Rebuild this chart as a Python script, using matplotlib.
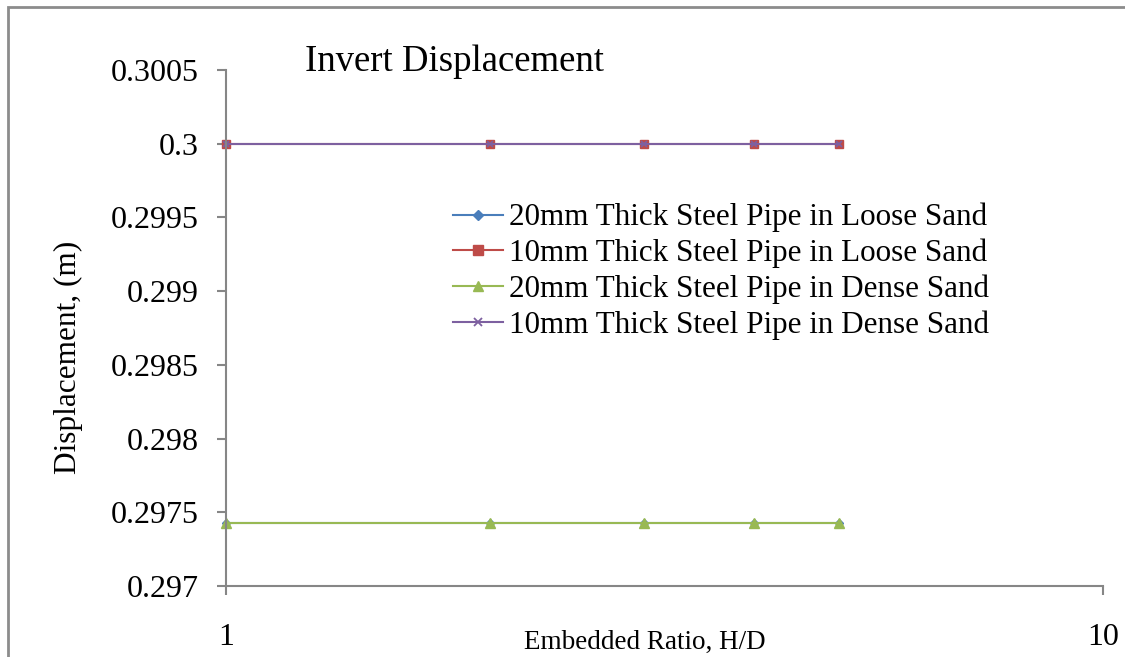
import matplotlib
matplotlib.use("Agg")
import matplotlib.pyplot as plt
from matplotlib.patches import Rectangle

# Embedded ratio H/D and invert displacement (m) for each pipe/sand case
embedded_ratio = [1, 2, 3, 4, 5]
loose_20mm = [0.29743, 0.29743, 0.29743, 0.29743, 0.29743]
loose_10mm = [0.30000, 0.30000, 0.30000, 0.30000, 0.30000]
dense_20mm = [0.29743, 0.29743, 0.29743, 0.29743, 0.29743]
dense_10mm = [0.30000, 0.30000, 0.30000, 0.30000, 0.30000]

series_labels = [
    "20mm Thick Steel Pipe in Loose Sand",
    "10mm Thick Steel Pipe in Loose Sand",
    "20mm Thick Steel Pipe in Dense Sand",
    "10mm Thick Steel Pipe in Dense Sand",
]
y_ticks = [0.297, 0.2975, 0.298, 0.2985, 0.299, 0.2995, 0.3, 0.3005]
y_tick_labels = ["0.297", "0.2975", "0.298", "0.2985", "0.299", "0.2995", "0.3", "0.3005"]

plt.rcParams["font.family"] = ["Liberation Serif", "DejaVu Serif"]

fig = plt.figure(figsize=(11.25, 6.57), dpi=100)
fig.patch.set_facecolor("white")

# Chart-area frame (runs off the right and bottom edges)
fig.patches.append(Rectangle((8 / 1125, -0.1), 1.2, 1.1 - 7 / 657,
                             transform=fig.transFigure, fill=False,
                             edgecolor="#8c8c8c", linewidth=2, zorder=0))

ax = fig.add_axes([226 / 1125, 1 - 586 / 657, (1103 - 226) / 1125, (586 - 70) / 657])

styles = [
    dict(color="#4a7ebb", marker="D", markersize=4.5),
    dict(color="#be4b48", marker="s", markersize=6),
    dict(color="#98b954", marker="^", markersize=6.5),
    dict(color="#7d60a0", marker="x", markersize=5, markeredgewidth=1.3),
]
data = [loose_20mm, loose_10mm, dense_20mm, dense_10mm]
for values, label, st in zip(data, series_labels, styles):
    ax.plot(embedded_ratio, values, label=label, linewidth=1.5,
            clip_on=False, **st)

ax.set_xscale("log")
ax.set_xlim(1, 10)
ax.set_ylim(0.297, 0.3005)
ax.set_xticks([1, 10])
ax.set_xticklabels(["1", "10"])
ax.xaxis.set_minor_locator(matplotlib.ticker.NullLocator())
ax.set_yticks(y_ticks)
ax.set_yticklabels(y_tick_labels)

for side in ("top", "right"):
    ax.spines[side].set_visible(False)
for side in ("left", "bottom"):
    ax.spines[side].set_color("#868686")
    ax.spines[side].set_linewidth(1.5)
ax.tick_params(axis="both", direction="out", length=6.5, width=1.5,
               color="#868686", labelsize=23)
ax.tick_params(axis="x", pad=20)
ax.tick_params(axis="y", pad=13)

fig.text(645 / 1125, 1 - 642 / 657, "Embedded Ratio, H/D", fontsize=19.5,
         ha="center", va="center")
fig.text(68 / 1125, 1 - 357 / 657, "Displacement, (m)", fontsize=22.5,
         ha="center", va="center", rotation=90)

fig.text(305 / 1125, 1 - 62 / 657, "Invert Displacement", fontsize=26.5,
         ha="left", va="center")

leg = ax.legend(loc="upper left", bbox_to_anchor=(453 / 1125, 1 - 203 / 657),
                bbox_transform=fig.transFigure, frameon=False, fontsize=22.4,
                handlelength=1.6, handletextpad=0.2, labelspacing=0.2,
                borderpad=0, borderaxespad=0, markerscale=1.2)

fig.savefig("out.png", dpi=100)
